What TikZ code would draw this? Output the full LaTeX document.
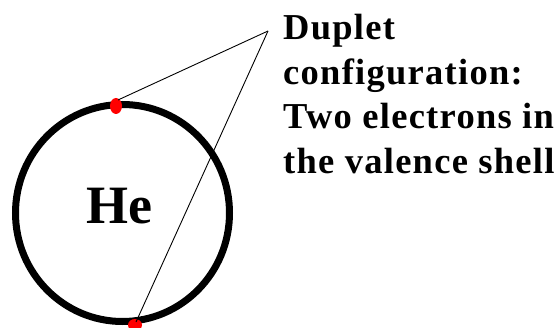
\documentclass[tikz,border=0pt]{standalone}
\usepackage{fontspec}
\setmainfont{Liberation Serif}
\newfontfamily\lblfont[LetterSpace=3.5]{Liberation Serif}
\begin{document}
\begin{tikzpicture}[x=1pt,y=-1pt,
  shell/.style={draw=black,line width=7pt},
  electron/.style={fill=red,draw=none},
  pointer/.style={draw=black,line width=0.9pt},
  label/.style={font=\lblfont\bfseries\fontsize{36.5}{44.5}\selectfont,align=left,inner sep=0pt,anchor=north west}]
\useasboundingbox (0,0) rectangle (559,328);
\draw[shell] (122.5,213) ellipse [x radius=107, y radius=108.5];
\node[font=\bfseries\fontsize{54}{60}\selectfont,inner sep=0pt,anchor=base] (he) at (119,224) {He};
\fill[electron] (116,106) ellipse [x radius=6, y radius=8];
\fill[electron] (135,325) ellipse [x radius=7, y radius=6];
\coordinate (e1) at (118,100);
\coordinate (e2) at (136,322);
\coordinate (tip) at (268,31);
\draw[pointer] (e1) -- (tip);
\draw[pointer] (e2) -- (tip);
\node[label] (txt) at (283,14) {Duplet\\configuration:\\Two electrons in\\the valence shell};
\end{tikzpicture}
\end{document}
